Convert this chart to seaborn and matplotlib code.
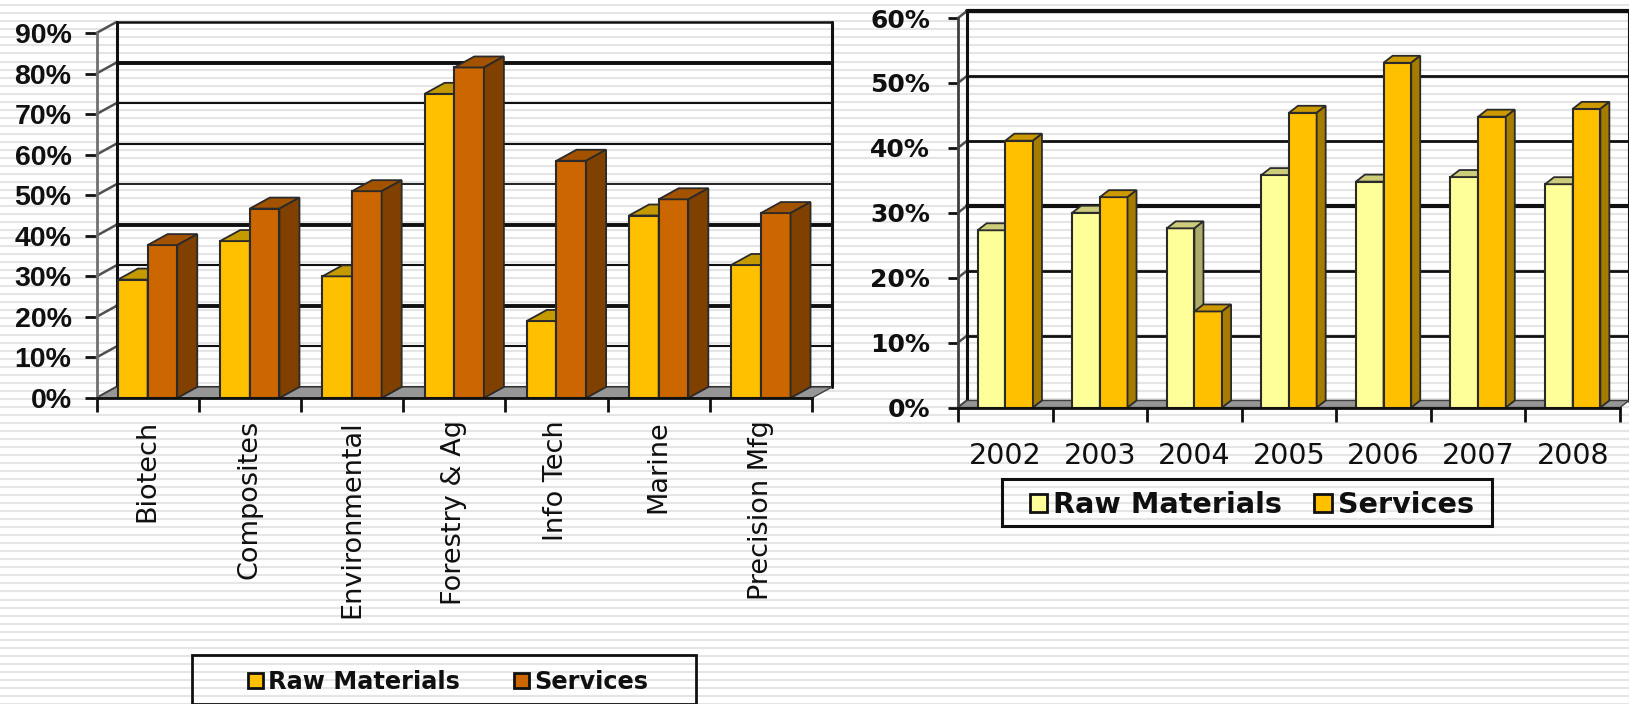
import matplotlib
matplotlib.use("Agg")
import matplotlib.pyplot as plt
import numpy as np
import pandas as pd
import seaborn as sns
from matplotlib.patches import Polygon, Rectangle, Patch
from matplotlib.ticker import FuncFormatter

sectors = ["Biotech", "Composites", "Environmental", "Forestry & Ag", "Info Tech", "Marine", "Precision Mfg"]
sector_raw = [29.2, 38.7, 30.0, 75.0, 19.0, 45.0, 32.8]
sector_services = [37.7, 46.7, 51.0, 81.5, 58.5, 49.0, 45.6]
years = ["2002", "2003", "2004", "2005", "2006", "2007", "2008"]
year_raw = [27.3, 30.0, 27.6, 35.8, 34.8, 35.5, 34.4]
year_services = [41.1, 32.4, 14.8, 45.4, 53.1, 44.8, 46.0]
series_names = ["Raw Materials", "Services"]
left_ticks = [0, 10, 20, 30, 40, 50, 60, 70, 80, 90]
right_ticks = [0, 10, 20, 30, 40, 50, 60]

W, H = 1629, 704
sns.set_theme(style="white")
fig = plt.figure(figsize=(W / 100, H / 100), dpi=100, facecolor="white")

bg = fig.add_axes([0, 0, 1, 1], zorder=-5)
bg.set_xlim(0, W)
bg.set_ylim(H, 0)
bg.axis("off")
bg.hlines(np.arange(5.3, H, 8.03), 0, W, color="#E5E5E5", lw=1.5)


def panel(rect_px, cats, raw, services, ticks, colors, depth, bar_span, grid_lw, ytick_font, xtick_kw, tick_len, front_color):
    x0, x1, ytop, ybot = rect_px
    ax = fig.add_axes([x0 / W, 1 - ybot / H, (x1 - x0) / W, (ybot - ytop) / H], facecolor="none", zorder=1)
    df = pd.DataFrame({
        "cat": list(cats) * 2,
        "val": list(raw) + list(services),
        "series": [series_names[0]] * len(cats) + [series_names[1]] * len(cats),
    })
    sns.barplot(data=df, x="cat", y="val", hue="series", hue_order=series_names,
                palette=[colors["front"][0], colors["front"][1]], width=bar_span, gap=0, saturation=1,
                edgecolor="#2A2A2A", linewidth=1.5, errorbar=None, legend=False, ax=ax)
    n = len(cats)
    ax.set_xlim(-0.5, n - 0.5)
    ax.set_ylim(ticks[0], ticks[-1])
    dx = depth[0] * n / (x1 - x0)
    dy = depth[1] * ticks[-1] / (ybot - ytop)
    lo, hi = -0.5, n - 0.5

    # 3D box behind the bars
    for t, lw in zip(ticks, grid_lw):
        ax.plot([lo + dx, hi + dx], [t + dy, t + dy], color="#101010", lw=lw, zorder=0.5, clip_on=False)
        ax.plot([lo, lo + dx], [t, t + dy], color="#505050", lw=1.8, zorder=0.6, clip_on=False)
    ax.add_patch(Polygon([(lo, 0), (lo + dx, dy), (hi + dx, dy), (hi, 0)], closed=True, fc="#969696",
                         ec="#404040", lw=1, zorder=0.7, clip_on=False))
    ax.plot([lo + dx, lo + dx], [0 + dy, ticks[-1] + dy], color="#101010", lw=2.2, zorder=0.6, clip_on=False)
    ax.plot([hi + dx, hi + dx], [0 + dy, ticks[-1] + dy], color="#101010", lw=2.2, zorder=0.6, clip_on=False)

    # depth faces of each bar, from the bars seaborn drew
    for s, container in enumerate(ax.containers):
        for bar in container:
            a, w, h = bar.get_x(), bar.get_width(), bar.get_height()
            b = a + w
            bar.set_zorder(3 + s)
            ax.add_patch(Polygon([(a, h), (a + dx, h + dy), (b + dx, h + dy), (b, h)], closed=True,
                                 fc=colors["top"][s], ec="#2A2A2A", lw=1.3, zorder=3 + s, clip_on=False))
            ax.add_patch(Polygon([(b, 0), (b + dx, dy), (b + dx, h + dy), (b, h)], closed=True,
                                 fc=colors["side"][s], ec="#2A2A2A", lw=1.3, zorder=3 + s, clip_on=False))

    sns.despine(ax=ax, top=True, right=True)
    ax.spines["left"].set(color=front_color, linewidth=2, zorder=6)
    ax.spines["bottom"].set(color="#101010", linewidth=2, zorder=6)
    ax.set_xlabel("")
    ax.set_ylabel("")
    ax.set_yticks(ticks)
    ax.yaxis.set_major_formatter(FuncFormatter(lambda v, _: f"{v:.0f}%"))
    ax.tick_params(axis="y", length=tick_len[0], width=2, color="#101010", pad=ytick_font.pop("pad"), left=True)
    for lab in ax.get_yticklabels():
        lab.set(**ytick_font)
    ax.set_xticks(range(n))
    ax.set_xticklabels(cats)
    ax.set_xticks(np.arange(lo, hi + 0.5), minor=True)
    ax.tick_params(axis="x", which="minor", length=tick_len[1], width=2, color="#101010", bottom=True)
    ax.tick_params(axis="x", which="major", length=0, pad=xtick_kw.pop("pad"))
    for lab in ax.get_xticklabels():
        lab.set(color="#101010", **xtick_kw)
    return ax


def legend_box(ax, colors, box, center, fontsize, hsize, hpad, colsp, lw):
    x0, y0, x1, y1 = box
    bg.add_patch(Rectangle((x0, y0), x1 - x0, y1 - y0, fill=False, ec="#101010", lw=lw, zorder=5, clip_on=False))
    handles = [Patch(fc=c, ec="#101010", lw=2) for c in colors["front"]]
    leg = ax.legend(handles, series_names, loc="center", ncol=2, frameon=False,
                    bbox_to_anchor=(center[0] / W, 1 - center[1] / H), bbox_transform=fig.transFigure,
                    borderpad=0, borderaxespad=0, fontsize=fontsize, handlelength=hsize, handleheight=hsize,
                    handletextpad=hpad, columnspacing=colsp)
    for t in leg.get_texts():
        t.set(fontweight="bold", color="#101010", family="DejaVu Sans")


left_colors = {"front": ["#FFC000", "#CC6600"], "top": ["#C49A00", "#A35200"], "side": ["#C49A00", "#804000"]}
right_colors = {"front": ["#FFFF99", "#FFC000"], "top": ["#CCCC7A", "#CC9900"], "side": ["#ADAD6B", "#A67C00"]}

ax1 = panel((96.5, 812, 33, 398), sectors, sector_raw, sector_services, left_ticks, left_colors, (20, 11), 0.58,
            [1.5, 1.5, 2.8, 1.5, 2.8, 1.3, 1.5, 1.5, 2.8, 1.8],
            {"family": "Liberation Sans", "fontweight": "bold", "fontsize": 20.5, "color": "#101010", "pad": 9},
            {"family": "DejaVu Sans", "fontsize": 19.5, "rotation": 90, "pad": 16}, (9, 10), "#707070")
ax2 = panel((958, 1620, 18, 407.5), years, year_raw, year_services, right_ticks, right_colors, (9, 7), 0.585,
            [1.5, 2, 2, 3, 2, 2, 3],
            {"family": "DejaVu Sans", "fontweight": "bold", "fontsize": 18, "color": "#101010", "pad": 13},
            {"family": "DejaVu Sans", "fontsize": 20.5, "pad": 25}, (7, 10), "#404040")

legend_box(ax1, left_colors, (192, 655, 696, 704), (448, 682), 17.25, 0.63, 0.22, 2.25, 2)
legend_box(ax2, right_colors, (1002, 479, 1492.5, 526), (1252, 505), 20.6, 0.6, 0.22, 1.12, 2.2)

fig.savefig("out.png", dpi=100, facecolor="white")
